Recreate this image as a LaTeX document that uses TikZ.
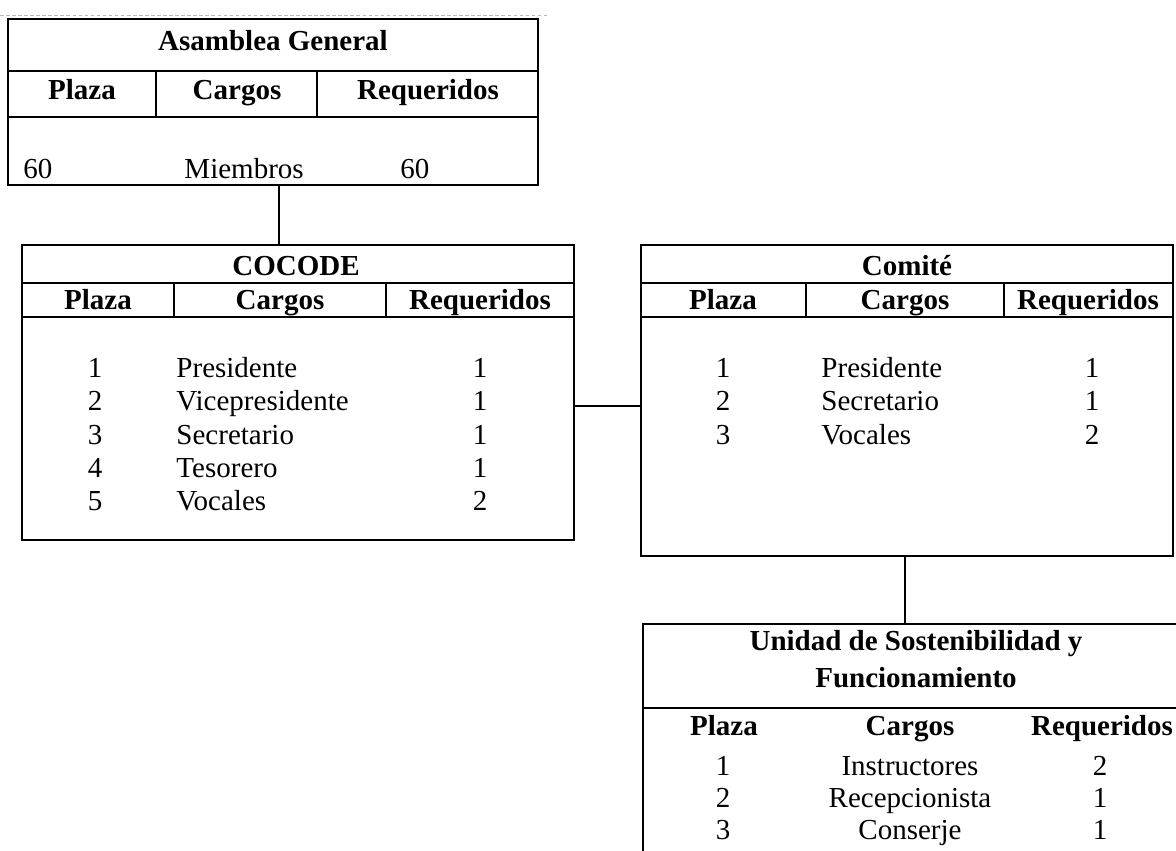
\documentclass[tikz,border=0pt]{standalone}
\usepackage{fontspec}
\setmainfont{Liberation Serif}
\usetikzlibrary{fit}
\begin{document}
\begin{tikzpicture}[x=0.41379pt,y=-0.41379pt,
  box/.style={draw, line width=0.85pt, inner sep=0pt},
  rule/.style={line width=0.8pt},
  conn/.style={line width=0.6pt},
  ttl/.style={font=\fontsize{12}{14}\selectfont\bfseries, anchor=base, inner sep=0pt},
  cell/.style={font=\fontsize{12}{14}\selectfont, anchor=base, inner sep=0pt},
  lcell/.style={cell, anchor=base west}]
\clip (0,0) rectangle (1176,850);
\fill[white] (0,0) rectangle (1176,850);
% faint scan line at top
\draw[gray!55, line width=0.3pt, dash pattern=on 1.5pt off 1pt] (0,15) -- (548,15);

% ---------- Asamblea General ----------
\coordinate (agA) at (8,19);
\coordinate (agB) at (538,185);
\node[box, fit=(agA)(agB)] (ag) {};
\draw[rule] (8,71) -- (538,71);
\draw[rule] (8,117) -- (538,117);
\draw[rule] (156,71) -- (156,117);
\draw[rule] (317,71) -- (317,117);
\node[ttl] (agT) at (273,50) {Asamblea General};
\node[ttl] (agH1) at (82,99) {Plaza};
\node[ttl] (agH2) at (237,99) {Cargos};
\node[ttl] (agH3) at (428,99) {Requeridos};
\node[lcell] (agR1) at (23,178) {60};
\node[lcell] (agR2) at (184,178) {Miembros};
\node[lcell] (agR3) at (400,178) {60};

% ---------- COCODE ----------
\coordinate (ccA) at (22,245);
\coordinate (ccB) at (574,540);
\node[box, fit=(ccA)(ccB)] (cc) {};
\draw[rule] (22,283) -- (574,283);
\draw[rule] (22,317) -- (574,317);
\draw[rule] (174,283) -- (174,317);
\draw[rule] (386,283) -- (386,317);
\node[ttl] (ccT) at (296,275) {COCODE};
\node[ttl] (ccH1) at (98,309) {Plaza};
\node[ttl] (ccH2) at (280,309) {Cargos};
\node[ttl] (ccH3) at (480,309) {Requeridos};
\foreach \n/\c/\r/\y in {1/Presidente/1/377, 2/Vicepresidente/1/410, 3/Secretario/1/444, 4/Tesorero/1/477, 5/Vocales/2/510}{
  \node[cell] (ccN\n) at (95,\y) {\n};
  \node[lcell] (ccC\n) at (176,\y) {\c};
  \node[cell] (ccR\n) at (480,\y) {\r};
}

% ---------- Comite ----------
\coordinate (cmA) at (641,245);
\coordinate (cmB) at (1173,556);
\node[box, fit=(cmA)(cmB)] (cm) {};
\draw[rule] (641,283) -- (1173,283);
\draw[rule] (641,317) -- (1173,317);
\draw[rule] (806,283) -- (806,317);
\draw[rule] (1004,283) -- (1004,317);
\node[ttl] (cmT) at (907,275) {Comité};
\node[ttl] (cmH1) at (723,309) {Plaza};
\node[ttl] (cmH2) at (905,309) {Cargos};
\node[ttl] (cmH3) at (1088,309) {Requeridos};
\foreach \n/\c/\r/\y in {1/Presidente/1/377, 2/Secretario/1/410, 3/Vocales/2/444}{
  \node[cell] (cmN\n) at (723,\y) {\n};
  \node[lcell] (cmC\n) at (821,\y) {\c};
  \node[cell] (cmR\n) at (1092,\y) {\r};
}

% ---------- Unidad ----------
\coordinate (usA) at (643,624);
\coordinate (usB) at (1192,900);
\node[box, fit=(usA)(usB)] (us) {};
\draw[rule] (643,708) -- (1192,708);
\node[ttl] (usT1) at (916,650) {Unidad de Sostenibilidad y};
\node[ttl] (usT2) at (916,687) {Funcionamiento};
\node[ttl] (usH1) at (724,735) {Plaza};
\node[ttl] (usH2) at (910,735) {Cargos};
\node[ttl] (usH3) at (1102,735) {Requeridos};
\foreach \n/\c/\r/\y in {1/Instructores/2/775, 2/Recepcionista/1/807, 3/Conserje/1/839}{
  \node[cell] (usN\n) at (723,\y) {\n};
  \node[cell] (usC\n) at (910,\y) {\c};
  \node[cell] (usR\n) at (1100,\y) {\r};
}

% ---------- connectors ----------
\coordinate (j1) at (279,0);
\coordinate (j2) at (0,406);
\coordinate (j3) at (905,0);
\draw[conn] (j1 |- ag.south) -- (j1 |- cc.north);
\draw[conn] (cc.east |- j2) -- (cm.west |- j2);
\draw[conn] (j3 |- cm.south) -- (j3 |- us.north);
\end{tikzpicture}
\end{document}
